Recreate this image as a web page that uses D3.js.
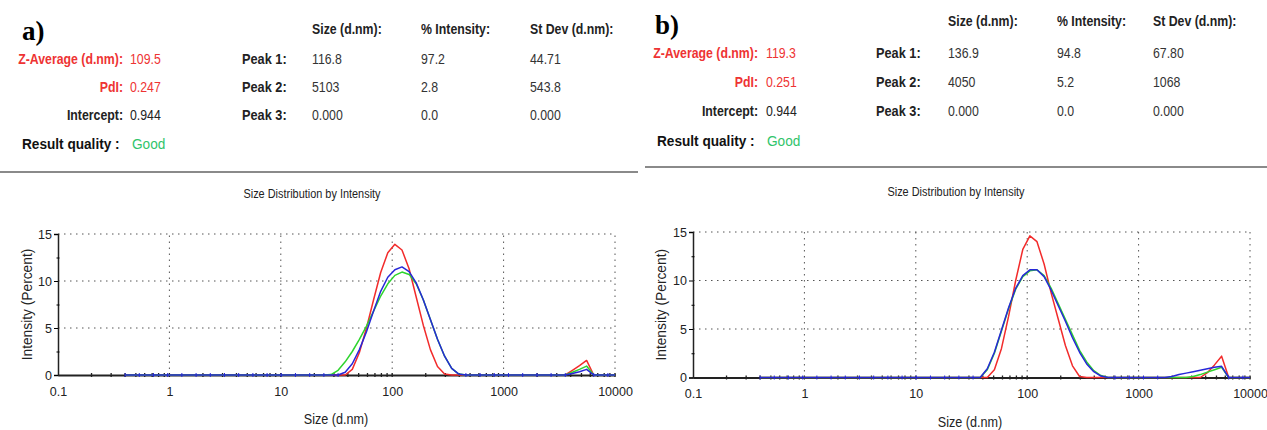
<!DOCTYPE html>
<html><head><meta charset="utf-8">
<script src="https://cdn.jsdelivr.net/npm/d3@7"></script>
<style>
body{margin:0;background:#fff;}
svg text{font-family:"Liberation Sans",Arial,sans-serif;}
</style></head>
<body><svg id="c" width="1267" height="430"></svg>
<script>
// ---------- DATA ----------
const sizes = [0.4,0.4632,0.5365,0.6213,0.7195,0.8332,0.9649,1.117,1.294,1.499,
1.736,2.01,2.328,2.696,3.122,3.615,4.187,4.849,5.615,6.503,
7.531,8.721,10.1,11.7,13.54,15.69,18.17,21.04,24.36,28.21,
32.67,37.84,43.82,50.75,58.77,68.06,78.82,91.28,105.7,122.4,
141.8,164.2,190.1,220.2,255.0,295.3,342.0,396.1,458.7,531.2,
615.1,712.4,825.0,955.4,1106,1281,1484,1718,1990,2305,
2669,3091,3580,4145,4801,5560,6439,7456,8635,10000];

const aRed = [0,0,0,0,0,0,0,0,0,0, 0,0,0,0,0,0,0,0,0,0, 0,0,0,0,0,0,0,0,0,0,
0,0,0.6,2.4,5.0,8.0,10.9,13.0,13.9,13.3, 11.3,8.3,5.3,2.7,0.9,0.1,0,0,0,0,
0,0,0,0,0,0,0,0,0,0, 0,0,0,0.5,1.0,1.55,0,0,0,0];
const aGreen = [0,0,0,0,0,0,0,0,0,0, 0,0,0,0,0,0,0,0,0,0, 0,0,0,0,0,0,0,0,0,0.05,
0.5,1.4,2.5,3.8,5.2,6.8,8.4,9.7,10.6,10.95, 10.7,9.7,8.0,5.9,3.8,2.0,0.7,0.1,0,0,
0,0,0,0,0,0,0,0,0,0, 0,0,0,0.3,0.6,0.95,0,0,0,0];
const aBlue = [0,0,0,0,0,0,0,0,0,0, 0,0,0,0,0,0,0,0,0,0, 0,0,0,0,0,0,0,0,0,0,
0,0.3,1.2,2.7,4.6,6.8,8.9,10.4,11.2,11.5, 11.0,9.8,8.0,5.9,3.8,2.0,0.7,0.1,0,0,
0,0,0,0,0,0,0,0,0,0, 0,0,0,0.15,0.35,0.6,0,0,0,0];

const bRed = [0,0,0,0,0,0,0,0,0,0, 0,0,0,0,0,0,0,0,0,0, 0,0,0,0,0,0,0,0,0,0,
0,0,0,0.8,3.0,6.3,10.0,13.2,14.6,14.0, 11.7,8.7,6.0,3.3,1.2,0.1,0,0,0,0,
0,0,0,0,0,0,0,0,0,0, 0,0,0,0.5,1.3,2.2,0,0,0,0];
const bGreen = [0,0,0,0,0,0,0,0,0,0, 0,0,0,0,0,0,0,0,0,0, 0,0,0,0,0,0,0,0,0,0,
0,0,0.8,2.5,4.8,7.1,9.1,10.4,11.0,11.1, 10.5,9.2,7.6,6.0,4.4,2.8,1.6,0.7,0.2,0,
0,0,0,0,0,0,0,0,0,0, 0,0.1,0.3,0.55,0.8,1.05,0,0,0,0];
const bBlue = [0,0,0,0,0,0,0,0,0,0, 0,0,0,0,0,0,0,0,0,0, 0,0,0,0,0,0,0,0,0,0,
0,0,0.9,2.6,4.9,7.2,9.2,10.5,11.1,11.1, 10.4,9.0,7.4,5.8,4.1,2.6,1.4,0.6,0.15,0,
0,0,0,0,0,0,0,0,0.1,0.3, 0.45,0.6,0.75,0.9,1.05,1.15,0,0,0,0];

const xTicks = [0.1,1,10,100,1000,10000];
const xTickLabels = ["0.1","1","10","100","1000","10000"];
const yTicks = [0,5,10,15];

const colHeaders = ["Size (d.nm):","% Intensity:","St Dev (d.nm):"];
const peakLabels = ["Peak 1:","Peak 2:","Peak 3:"];
const leftLabels = ["Z-Average (d.nm):","PdI:","Intercept:"];
const aLeftValues = ["109.5","0.247","0.944"];
const bLeftValues = ["119.3","0.251","0.944"];
const aPeaks = [["116.8","97.2","44.71"],["5103","2.8","543.8"],["0.000","0.0","0.000"]];
const bPeaks = [["136.9","94.8","67.80"],["4050","5.2","1068"],["0.000","0.0","0.000"]];
const qualityLabel = "Result quality :";
const qualityValue = "Good";
const chartTitle = "Size Distribution by Intensity";
const xTitle = "Size (d.nm)";
const yTitle = "Intensity (Percent)";

// ---------- DRAW ----------
const svg = d3.select("#c");
const RED="#f22b2b", GREEN="#2ed42e", BLUE="#2727d8";
const SX = 0.88;

function txt(g, x, y, s, o){
  o = o||{};
  return g.append("text")
    .attr("transform",`translate(${x},${y}) scale(${o.sx||SX},1)`)
    .attr("text-anchor",o.anchor||"start").attr("dominant-baseline","middle")
    .attr("font-size",o.size||14).attr("font-weight",o.bold?"bold":"normal")
    .attr("fill",o.fill||"#222").text(s);
}

function header(g, L, tag, leftVals, peaks){
  g.append("text").attr("x",L.tagX).attr("y",L.tagY)
    .style("font-family","'Liberation Serif','DejaVu Serif',serif")
    .attr("font-size",27).attr("font-weight","bold").text(tag);
  colHeaders.forEach((t,i)=>txt(g,L.cols[i],L.hy,t,{bold:true}));
  leftLabels.forEach((t,i)=>{
    const c = i<2 ? "#ee3333" : "#222";
    txt(g,L.labR,L.rows[i],t,{bold:true,anchor:"end",fill:c});
    txt(g,L.valX,L.rows[i],leftVals[i],{fill:c});
  });
  peakLabels.forEach((t,i)=>{
    txt(g,L.peakX,L.rows[i],t,{bold:true,size:14.5});
    peaks[i].forEach((v,j)=>txt(g,L.cols[j],L.rows[i],v,{fill:"#333"}));
  });
  txt(g,L.qX,L.rows[3],qualityLabel,{bold:true,size:15.5,fill:"#111"});
  txt(g,L.goodX,L.rows[3],qualityValue,{size:15.5,fill:"#2fc46a"});
  g.append("line").attr("x1",L.sepX0).attr("x2",L.sepX1).attr("y1",L.sepY).attr("y2",L.sepY)
    .attr("stroke","#8a8a8a").attr("stroke-width",2);
}

function plot(g, P, red, green, blue){
  const x = d3.scaleLog().domain([0.1,10000]).range([P.x0,P.x1]);
  const y = d3.scaleLinear().domain([0,15]).range([P.y0,P.y1]);
  txt(g,P.titleX,P.titleY,chartTitle,{anchor:"middle",size:13,sx:0.84});
  // grid
  const gridStyle = s=>s.attr("stroke","#555").attr("stroke-width",1).attr("stroke-dasharray","1.5,4.5");
  g.selectAll(".hg").data([5,10,15]).join("line").attr("x1",P.x0).attr("x2",P.x1)
    .attr("y1",d=>y(d)).attr("y2",d=>y(d)).call(gridStyle);
  g.selectAll(".vg").data([1,10,100,1000,10000]).join("line").attr("x1",d=>x(d)).attr("x2",d=>x(d))
    .attr("y1",y(0)).attr("y2",y(15)).call(gridStyle);
  // y axis
  const ya = d3.axisLeft(y).tickValues(yTicks).tickSize(4).tickPadding(2).tickFormat(d3.format("d"));
  const yg = g.append("g").attr("transform",`translate(${P.x0},0)`).call(ya);
  yg.select(".domain").attr("stroke","#222").attr("stroke-width",1.5);
  yg.selectAll("text").attr("font-size",12.5).attr("fill","#222");
  const ym = d3.axisLeft(y).tickValues([2.5,7.5,12.5]).tickSize(3).tickFormat("");
  g.append("g").attr("transform",`translate(${P.x0+1.5},0)`).call(ym).select(".domain").remove();
  g.append("text").attr("transform",`translate(${P.yTitleX},${(P.y0+P.y1)/2}) rotate(-90) scale(0.95,1)`)
    .attr("text-anchor","middle").attr("dominant-baseline","middle").attr("font-size",14.5).attr("fill","#222").text(yTitle);
  // x axis
  const xa = d3.axisBottom(x).tickValues(xTicks).tickSize(0).tickPadding(12)
    .tickFormat((d,i)=>xTickLabels[i]);
  const xg = g.append("g").attr("transform",`translate(0,${P.y0})`).call(xa);
  xg.select(".domain").attr("stroke","#222").attr("stroke-width",2);
  xg.selectAll("text").attr("font-size",12.5).attr("fill","#222");
  const minors = [];
  [0.1,1,10,100,1000].forEach(dec=>{for(let k=2;k<=9;k++) minors.push(dec*k);});
  g.selectAll(".mt").data(minors.concat([1,10,100,1000,10000])).join("line")
    .attr("x1",d=>x(d)).attr("x2",d=>x(d)).attr("y1",P.y0-2).attr("y2",P.y0+2)
    .attr("stroke","#222").attr("stroke-width",1.3);
  txt(g,P.xTitleX,P.xTitleY,xTitle,{anchor:"middle",size:14,sx:0.9});
  // series
  const line = d3.line().x(d=>x(d[0])).y(d=>y(d[1]));
  [[red,RED],[green,GREEN],[blue,BLUE]].forEach(([vals,col])=>{
    g.append("path").datum(sizes.map((s,i)=>[s,vals[i]])).attr("d",line)
      .attr("fill","none").attr("stroke",col).attr("stroke-width",1.5).attr("stroke-linejoin","round");
  });
  g.selectAll(".bm").data(sizes.filter((s,i)=>blue[i]===0 && i%2===0)).join("line")
    .attr("x1",d=>x(d)).attr("x2",d=>x(d)).attr("y1",P.y0-2).attr("y2",P.y0+2)
    .attr("stroke",BLUE).attr("stroke-width",1);
}

const gA = svg.append("g"), gB = svg.append("g");
header(gA, {tagX:22,tagY:40,hy:30,cols:[312,421,530],rows:[60,88,116,145],labR:123,valX:130,peakX:242,qX:22,goodX:132,sepX0:0,sepX1:638,sepY:172},
  "a)", aLeftValues, aPeaks);
header(gB, {tagX:655,tagY:34,hy:22,cols:[948,1057,1153],rows:[54,83,112,142],labR:758,valX:766,peakX:876,qX:657,goodX:767,sepX0:645,sepX1:1267,sepY:167},
  "b)", bLeftValues, bPeaks);
plot(gA, {x0:58,x1:615,y0:375,y1:234,titleX:312,titleY:195,yTitleX:28,xTitleX:336,xTitleY:420}, aRed, aGreen, aBlue);
plot(gB, {x0:693,x1:1250,y0:377.5,y1:232,titleX:956,titleY:193,yTitleX:662,xTitleX:970,xTitleY:423}, bRed, bGreen, bBlue);
</script></body></html>
